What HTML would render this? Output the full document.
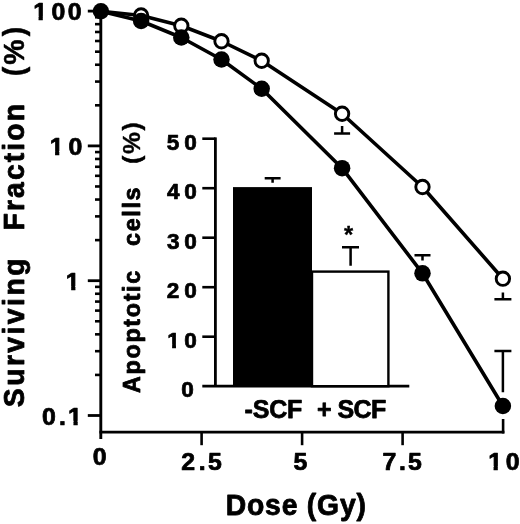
<!DOCTYPE html>
<html lang="en"><head><meta charset="utf-8"><title>Surviving Fraction vs Dose</title>
<style>html,body{margin:0;padding:0;background:#fff}body{width:520px;height:524px;overflow:hidden}</style>
</head><body>
<svg width="520" height="524" viewBox="0 0 520 524" style="display:block;will-change:transform">
<rect width="520" height="524" fill="#fff"/>
<g fill="none" stroke="#000" stroke-linecap="butt">
<path d="M100.8 10.1 V439" stroke-width="2.9"/>
<path d="M99.4 432.1 H504.4" stroke-width="2.9"/>
<path d="M87.8 11.10 H100.8" stroke-width="2.8"/>
<path d="M87.8 145.90 H100.8" stroke-width="2.8"/>
<path d="M87.8 280.70 H100.8" stroke-width="2.8"/>
<path d="M87.8 415.50 H100.8" stroke-width="2.8"/>
<path d="M95.0 105.32 H100.8" stroke-width="2.6"/>
<path d="M95.0 81.58 H100.8" stroke-width="2.6"/>
<path d="M95.0 64.74 H100.8" stroke-width="2.6"/>
<path d="M95.0 51.68 H100.8" stroke-width="2.6"/>
<path d="M95.0 41.01 H100.8" stroke-width="2.6"/>
<path d="M95.0 31.98 H100.8" stroke-width="2.6"/>
<path d="M95.0 24.16 H100.8" stroke-width="2.6"/>
<path d="M95.0 17.27 H100.8" stroke-width="2.6"/>
<path d="M95.0 240.12 H100.8" stroke-width="2.6"/>
<path d="M95.0 216.38 H100.8" stroke-width="2.6"/>
<path d="M95.0 199.54 H100.8" stroke-width="2.6"/>
<path d="M95.0 186.48 H100.8" stroke-width="2.6"/>
<path d="M95.0 175.81 H100.8" stroke-width="2.6"/>
<path d="M95.0 166.78 H100.8" stroke-width="2.6"/>
<path d="M95.0 158.96 H100.8" stroke-width="2.6"/>
<path d="M95.0 152.07 H100.8" stroke-width="2.6"/>
<path d="M95.0 374.92 H100.8" stroke-width="2.6"/>
<path d="M95.0 351.18 H100.8" stroke-width="2.6"/>
<path d="M95.0 334.34 H100.8" stroke-width="2.6"/>
<path d="M95.0 321.28 H100.8" stroke-width="2.6"/>
<path d="M95.0 310.61 H100.8" stroke-width="2.6"/>
<path d="M95.0 301.58 H100.8" stroke-width="2.6"/>
<path d="M95.0 293.76 H100.8" stroke-width="2.6"/>
<path d="M95.0 286.87 H100.8" stroke-width="2.6"/>
<path d="M201.60 432.1 V445.2" stroke-width="2.6"/>
<path d="M302.10 432.1 V445.2" stroke-width="2.6"/>
<path d="M402.60 432.1 V445.2" stroke-width="2.6"/>
<path d="M503.10 433.5 V419" stroke-width="2.6"/>
</g>
<g fill="none" stroke="#000">
<path d="M215.4 137.40 V386.2" stroke-width="2.8"/>
<path d="M202.3 386.2 H409.3" stroke-width="2.8"/>
<path d="M202.3 336.70 H215.4" stroke-width="2.6"/>
<path d="M202.3 287.20 H215.4" stroke-width="2.6"/>
<path d="M202.3 237.70 H215.4" stroke-width="2.6"/>
<path d="M202.3 188.20 H215.4" stroke-width="2.6"/>
<path d="M202.3 138.70 H215.4" stroke-width="2.6"/>
</g>
<rect x="233.0" y="187.1" width="79.0" height="199.10" fill="#000"/>
<rect x="312" y="271.6" width="76.4" height="114.60" fill="#fff" stroke="#000" stroke-width="2.4"/>
<g fill="none" stroke="#000" stroke-width="2.5">
<path d="M272.6 182.8 V178.3 M264.7 178.3 H280.6"/>
<path d="M350.6 265.8 V247.3 M342.0 247.3 H359"/>
</g>
<g fill="none" stroke="#000" stroke-width="2.5">
<path d="M342.10 126 V133.6 M334.10 133.6 h16"/>
<path d="M422.50 260.6 V255.3 M414.50 255.3 h16"/>
<path d="M502.90 292.5 V299.3 M494.40 299.3 h17"/>
<path d="M502.90 392.3 V351 M494.40 351 h17"/>
</g>
<polyline points="100.90,11.25 141.10,15.5 181.30,25.75 221.50,41.25 261.70,60.75 342.10,113.75 422.50,187 502.90,278.7" fill="none" stroke="#000" stroke-width="3.6" stroke-linejoin="round"/>
<circle cx="141.10" cy="15.5" r="6.7" fill="#fff" stroke="#000" stroke-width="2.9"/>
<circle cx="181.30" cy="25.75" r="6.7" fill="#fff" stroke="#000" stroke-width="2.9"/>
<circle cx="221.50" cy="41.25" r="6.7" fill="#fff" stroke="#000" stroke-width="2.9"/>
<circle cx="261.70" cy="60.75" r="6.7" fill="#fff" stroke="#000" stroke-width="2.9"/>
<circle cx="342.10" cy="113.75" r="6.7" fill="#fff" stroke="#000" stroke-width="2.9"/>
<circle cx="422.50" cy="187" r="6.7" fill="#fff" stroke="#000" stroke-width="2.9"/>
<circle cx="502.90" cy="278.7" r="6.7" fill="#fff" stroke="#000" stroke-width="2.9"/>
<polyline points="100.90,11.25 141.10,21 181.30,37.5 221.50,59.5 261.70,88.75 342.10,168.2 422.50,273.3 502.90,406.0" fill="none" stroke="#000" stroke-width="3.6" stroke-linejoin="round"/>
<circle cx="100.90" cy="11.25" r="8.25" fill="#000"/>
<circle cx="141.10" cy="21" r="8.25" fill="#000"/>
<circle cx="181.30" cy="37.5" r="8.25" fill="#000"/>
<circle cx="221.50" cy="59.5" r="8.25" fill="#000"/>
<circle cx="261.70" cy="88.75" r="8.25" fill="#000"/>
<circle cx="342.10" cy="168.2" r="8.25" fill="#000"/>
<circle cx="422.50" cy="273.3" r="8.25" fill="#000"/>
<circle cx="502.90" cy="406.0" r="8.25" fill="#000"/>
<g font-family="'Liberation Sans', sans-serif" font-weight="700" fill="#000" stroke="#000" stroke-linejoin="round">
<clipPath id="k1"><path clip-rule="evenodd" d="M-50 -40H600V20H-50ZM31.00 -3.80H36.93V1.88H31.00ZM40.94 -3.80H46.57V1.88H40.94Z"/></clipPath>
<g transform="translate(0 20.2) scale(1.045 1)"><text x="31.75 49.37 64.87" y="0" font-size="23.8" stroke-width="0.75" clip-path="url(#k1)">100</text></g>
<clipPath id="k2"><path clip-rule="evenodd" d="M-50 -40H600V20H-50ZM46.78 -3.80H52.72V1.88H46.78ZM56.73 -3.80H62.36V1.88H56.73Z"/></clipPath>
<g transform="translate(0 154.9) scale(1.045 1)"><text x="47.54 65.45" y="0" font-size="23.8" stroke-width="0.75" clip-path="url(#k2)">10</text></g>
<clipPath id="k3"><path clip-rule="evenodd" d="M-50 -40H600V20H-50ZM62.19 -3.80H68.12V1.88H62.19ZM72.14 -3.80H77.77V1.88H72.14Z"/></clipPath>
<g transform="translate(0 289.7) scale(1.045 1)"><text x="62.94" y="0" font-size="23.8" stroke-width="0.75" clip-path="url(#k3)">1</text></g>
<clipPath id="k4"><path clip-rule="evenodd" d="M-50 -40H600V20H-50ZM64.39 -3.80H70.32V1.88H64.39ZM74.34 -3.80H79.97V1.88H74.34Z"/></clipPath>
<g transform="translate(0 424.5) scale(1.045 1)"><text x="40.09 56.35 65.14" y="0" font-size="23.8" stroke-width="0.75" clip-path="url(#k4)">0.1</text></g>
<g transform="translate(0 465.3) scale(1.045 1)"><text x="88.70" y="0" font-size="23.8" stroke-width="0.75">0</text></g>
<g transform="translate(0 469.8) scale(1.045 1)"><text x="173.41 190.23 199.15" y="0" font-size="23.8" stroke-width="0.75">2.5</text></g>
<g transform="translate(0 469.8) scale(1.045 1)"><text x="280.97" y="0" font-size="23.8" stroke-width="0.75">5</text></g>
<g transform="translate(0 469.8) scale(1.045 1)"><text x="366.13 381.71 390.54" y="0" font-size="23.8" stroke-width="0.75">7.5</text></g>
<clipPath id="k5"><path clip-rule="evenodd" d="M-50 -40H600V20H-50ZM466.40 -3.80H472.33V1.88H466.40ZM476.35 -3.80H481.98V1.88H476.35Z"/></clipPath>
<g transform="translate(0 469.8) scale(1.045 1)"><text x="467.15 484.01" y="0" font-size="23.8" stroke-width="0.75" clip-path="url(#k5)">10</text></g>
<clipPath id="k6"><path clip-rule="evenodd" d="M-50 -40H600V20H-50ZM168.11 -3.70H173.87V1.88H168.11ZM177.75 -3.70H183.22V1.88H177.75Z"/></clipPath>
<g transform="translate(0 347.7) scale(0.99 1)"><text x="168.92 186.14" y="0" font-size="22.8" stroke-width="0.75" clip-path="url(#k6)">10</text></g>
<g transform="translate(0 298.2) scale(0.99 1)"><text x="168.38 186.14" y="0" font-size="22.8" stroke-width="0.75">20</text></g>
<g transform="translate(0 248.7) scale(0.99 1)"><text x="168.64 186.14" y="0" font-size="22.8" stroke-width="0.75">30</text></g>
<g transform="translate(0 199.2) scale(0.99 1)"><text x="168.82 186.14" y="0" font-size="22.8" stroke-width="0.75">40</text></g>
<g transform="translate(0 149.7) scale(0.99 1)"><text x="168.47 186.14" y="0" font-size="22.8" stroke-width="0.75">50</text></g>
<g transform="translate(0 396.7) scale(0.99 1)"><text x="183.01" y="0" font-size="22.8" stroke-width="0.75">0</text></g>
<text transform="translate(244.60 418.2) scale(1.0 1)" font-size="25" letter-spacing="-0.19" stroke-width="0.75">-SCF</text>
<text transform="translate(317.03 418.2) scale(1.0 1)" font-size="25" letter-spacing="-0.56" stroke-width="0.75">+ SCF</text>
<text transform="translate(348.5 243.2)" font-size="23.5" text-anchor="middle" stroke-width="0.35">*</text>
<text transform="translate(225.71 514.9) scale(0.97 1)" font-size="29.2" letter-spacing="0.84" stroke-width="0.8">Dose (Gy)</text>
<text transform="translate(24.0 0) rotate(-90) scale(0.97 1)" font-size="29.2" stroke-width="0.8"> <tspan x="-419.81" y="0" letter-spacing="2.53">Surviving</tspan> <tspan x="-237.62" y="0" letter-spacing="2.17">Fraction</tspan> <tspan x="-78.62 -66.76 -37.50" y="-0.3" font-size="29.3" stroke-width="0.5">(%)</tspan></text>
<text transform="translate(139.6 0) rotate(-90) scale(1.0 1)" font-size="23.3" stroke-width="0.8"> <tspan x="-392.98" y="0" letter-spacing="1.69">Apoptotic</tspan> <tspan x="-245.91" y="0" letter-spacing="1.66">cells</tspan> <tspan x="-163.83 -154.11 -130.62" y="0.3" font-size="24.6" stroke-width="0.4">(%)</tspan></text>
</g>
</svg>
</body></html>
